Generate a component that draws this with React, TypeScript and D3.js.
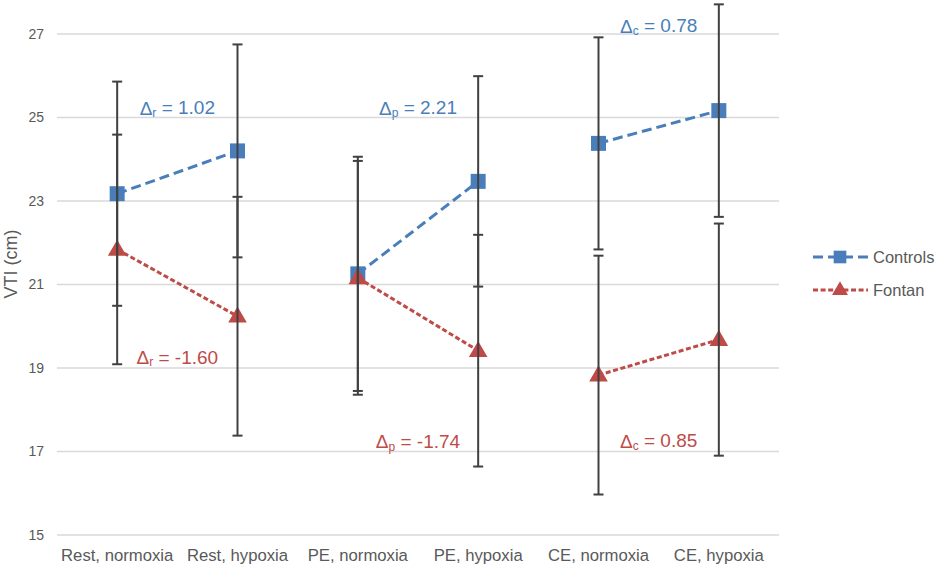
import React, { useEffect } from "react";
import * as d3 from "d3";

const categories = ["Rest, normoxia", "Rest, hypoxia", "PE, normoxia", "PE, hypoxia", "CE, normoxia", "CE, hypoxia"];
const controlsMean = [23.175, 24.2, 21.255, 23.47, 24.38, 25.165];
const controlsSD = [2.685, 2.55, 2.805, 2.52, 2.54, 2.545];
const fontanMean = [21.84, 20.24, 21.16, 19.415, 18.83, 19.68];
const fontanSD = [2.75, 2.86, 2.8, 2.775, 2.86, 2.78];
const yTicks = [15, 17, 19, 21, 23, 25, 27];

// annotations: series, first category index of the pair, subscript, value text, y value
const annSeries = ["Controls", "Controls", "Controls", "Fontan", "Fontan", "Fontan"];
const annPair = [0, 2, 4, 0, 2, 4];
const annSub = ["r", "p", "c", "r", "p", "c"];
const annText = ["1.02", "2.21", "0.78", "-1.60", "-1.74", "0.85"];
const annY = [25.23, 25.23, 27.19, 19.26, 17.24, 17.25];

const BLUE = "#4A7EBB";
const RED = "#BE4B48";
const FONT = "'Liberation Sans', Arial, sans-serif";

export default function App() {
  useEffect(() => {
    document.body.style.margin = "0";
  }, []);

  const W = 945, H = 565;
  const x = d3.scaleBand<string>().domain(categories).range([57, 779]).padding(0);
  const cx = (i: number) => (x(categories[i]) as number) + x.bandwidth() / 2;
  const y = d3.scaleLinear().domain([15, 27]).range([535, 34]);

  const line = d3.line<[number, number]>().x((d) => cx(d[0])).y((d) => y(d[1]));

  const series = [
    { name: "Controls", mean: controlsMean, sd: controlsSD, color: BLUE, dash: "10,5", marker: "square" },
    { name: "Fontan", mean: fontanMean, sd: fontanSD, color: RED, dash: "5,2.6", marker: "triangle" },
  ];

  const sym = (m: string, legend = false) =>
    m === "square"
      ? d3.symbol().type(d3.symbolSquare).size(legend ? 160 : 225)()
      : d3.symbol().type(d3.symbolTriangle).size(legend ? 110 : 150)();

  const cap = 5;

  return (
    <svg width={W} height={H} style={{ position: "absolute", left: 0, top: 0, background: "#fff" }} fontFamily={FONT}>
      <rect x={0} y={0} width={W} height={H} fill="#fff" />
      {yTicks.map((t) => (
        <g key={t}>
          <line x1={57} x2={779} y1={y(t)} y2={y(t)} stroke="#D9D9D9" strokeWidth={1.5} />
          <text x={44} y={y(t)} dy="0.35em" textAnchor="end" fontSize={14} fill="#595959">
            {t}
          </text>
        </g>
      ))}
      {categories.map((c, i) => (
        <text key={c} x={cx(i)} y={561} textAnchor="middle" fontSize={16.7} fill="#595959">
          {c}
        </text>
      ))}
      <text transform={`translate(17,264) rotate(-90)`} textAnchor="middle" fontSize={18} fill="#595959">
        VTI (cm)
      </text>

      {series.map((s) => (
        <g key={s.name}>
          {[0, 2, 4].map((k) => (
            <path
              key={k}
              d={line([[k, s.mean[k]], [k + 1, s.mean[k + 1]]]) as string}
              fill="none"
              stroke={s.color}
              strokeWidth={3}
              strokeDasharray={s.dash}
            />
          ))}
          {s.mean.map((v, i) => (
            <path
              key={i}
              d={sym(s.marker) as string}
              transform={`translate(${cx(i)},${y(v) + (s.marker === "triangle" ? 1 : 0)})`}
              fill={s.color}
            />
          ))}
        </g>
      ))}

      {series.map((s) => (
        <g key={s.name + "err"} stroke="#404040" strokeWidth={2}>
          {s.mean.map((v, i) => {
            const X = cx(i);
            const top = y(v + s.sd[i]);
            const bot = y(v - s.sd[i]);
            return (
              <g key={i}>
                <line x1={X} x2={X} y1={top} y2={bot} />
                <line x1={X - cap} x2={X + cap} y1={top} y2={top} />
                <line x1={X - cap} x2={X + cap} y1={bot} y2={bot} />
              </g>
            );
          })}
        </g>
      ))}

      {annText.map((t, i) => {
        const k = annPair[i];
        const X = (cx(k) + cx(k + 1)) / 2;
        const color = annSeries[i] === "Controls" ? BLUE : RED;
        return (
          <text key={i} x={X} y={y(annY[i])} dy="0.36em" textAnchor="middle" fontSize={19} fill={color}>
            Δ
            <tspan fontSize={12} dy="0.2em">{annSub[i]}</tspan>
            <tspan dy="-0.15em">{" = " + t}</tspan>
          </text>
        );
      })}

      {series.map((s, i) => {
        const ly = 257 + i * 33;
        return (
          <g key={s.name + "leg"}>
            <line x1={813} x2={868} y1={ly} y2={ly} stroke={s.color} strokeWidth={3} strokeDasharray={s.dash} />
            <path
              d={sym(s.marker, true) as string}
              transform={`translate(840,${ly + (s.marker === "triangle" ? 0.5 : 0)})`}
              fill={s.color}
            />
            <text x={873} y={ly} dy="0.36em" fontSize={16.5} fill="#595959">
              {s.name}
            </text>
          </g>
        );
      })}
    </svg>
  );
}
